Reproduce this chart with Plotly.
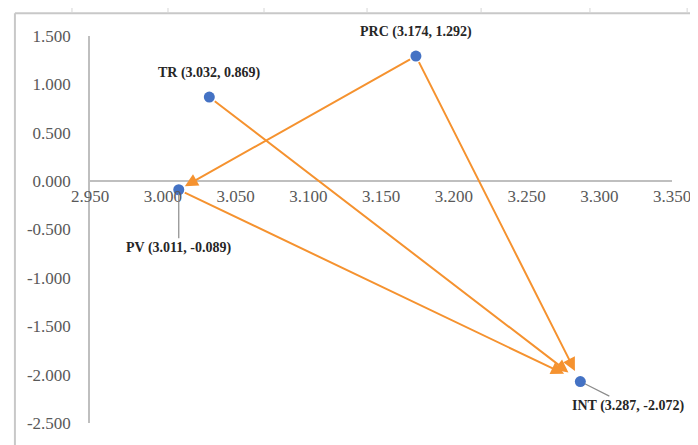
import plotly.graph_objects as go

names = ["TR", "PRC", "PV", "INT"]
xs = [3.032, 3.174, 3.011, 3.287]
ys = [0.869, 1.292, -0.089, -2.072]

# arrows: (from, to)
arrows = [("TR", "INT"), ("PRC", "PV"), ("PRC", "INT"), ("PV", "INT")]
arrow_standoff = [15, 7, 12, 18]

x_ticks = [2.95, 3.0, 3.05, 3.1, 3.15, 3.2, 3.25, 3.3, 3.35]
y_ticks = [1.5, 1.0, 0.5, 0.0, -0.5, -1.0, -1.5, -2.0, -2.5]

XR = [2.95, 3.35]
YR = [-2.5, 1.5]

ORANGE = "#F5922F"
BLUE = "#4472C4"
AXIS = "#BFBFBF"
TICK = "#595959"
FRAME = "#C8C8C8"
SERIF = "Liberation Serif, Times New Roman, serif"

idx = {n: i for i, n in enumerate(names)}

fig = go.Figure()
fig.add_trace(go.Scatter(x=xs, y=ys, mode="markers",
                         marker=dict(color=BLUE, size=11, line=dict(width=0)),
                         hoverinfo="skip", showlegend=False))

ann = []
for (a, b), so in zip(arrows, arrow_standoff):
    ia, ib = idx[a], idx[b]
    ann.append(dict(x=xs[ib], y=ys[ib], ax=xs[ia], ay=ys[ia],
                    xref="x", yref="y", axref="x", ayref="y",
                    showarrow=True, arrowhead=2, arrowsize=1.3, arrowwidth=2,
                    arrowcolor=ORANGE, standoff=so, startstandoff=5, text=""))

labels = [f"{n} ({x:.3f}, {y:.3f})" for n, x, y in zip(names, xs, ys)]
lab_font = dict(family=SERIF, size=14, color="#262626")
# TR, PRC above
for n in ["TR", "PRC"]:
    i = idx[n]
    ann.append(dict(x=xs[i], y=ys[i], xref="x", yref="y", text=f"<b>{labels[i]}</b>",
                    showarrow=False, yshift=24, font=lab_font))
# PV with leader below
i = idx["PV"]
ann.append(dict(x=xs[i], y=ys[i], xref="x", yref="y", text=f"<b>{labels[i]}</b>",
                showarrow=True, arrowhead=0, arrowwidth=1.2, arrowcolor="#8C8C8C",
                ax=0, ay=58, standoff=4, font=lab_font))
i = idx["INT"]
ann.append(dict(x=xs[i], y=ys[i], xref="x", yref="y", text=f"<b>{labels[i]}</b>",
                showarrow=True, arrowhead=0, arrowwidth=1.2, arrowcolor="#8C8C8C",
                ax=48, ay=24, standoff=5, font=lab_font))

zero_pos = (0 - YR[0]) / (YR[1] - YR[0])

shapes = [
    dict(type="line", xref="paper", yref="paper", x0=-0.129, x1=-0.129, y0=-0.2, y1=1.059,
         line=dict(color=FRAME, width=2), layer="above"),
    dict(type="line", xref="paper", yref="paper", x0=-0.129, x1=1.2, y0=1.059, y1=1.059,
         line=dict(color=FRAME, width=2), layer="above"),
    dict(type="line", xref="paper", yref="paper", x0=-0.2, x1=1.2, y0=1.080, y1=1.080,
         line=dict(color="#E6E6E6", width=1), layer="above"),
]
for px in [-0.031, 0.134, 0.299, 0.476, 0.672, 0.859, 1.026]:
    shapes.append(dict(type="line", xref="paper", yref="paper", x0=px, x1=px, y0=1.059, y1=1.082,
                       line=dict(color="#D6D6D6", width=1), layer="above"))

fig.update_layout(
    width=698, height=445,
    margin=dict(l=82, r=34, t=28, b=30),
    plot_bgcolor="white", paper_bgcolor="white",
    annotations=ann,
    xaxis=dict(range=XR, tickvals=x_ticks, ticktext=[f"{v:.3f}" for v in x_ticks],
               showgrid=False, zeroline=False, showline=True, linecolor=AXIS, linewidth=1.5,
               anchor="free", position=zero_pos, ticks="", automargin=False,
               tickfont=dict(family=SERIF, size=17, color=TICK)),
    yaxis=dict(range=YR, tickvals=y_ticks, ticktext=[f"{v:.3f}" for v in y_ticks],
               showgrid=False, zeroline=False, showline=True, linecolor=AXIS, linewidth=1.5,
               ticks="", ticklabelstandoff=14, automargin=False,
               tickfont=dict(family=SERIF, size=17, color=TICK)),
    shapes=shapes,
)

fig.write_html("out.html")
